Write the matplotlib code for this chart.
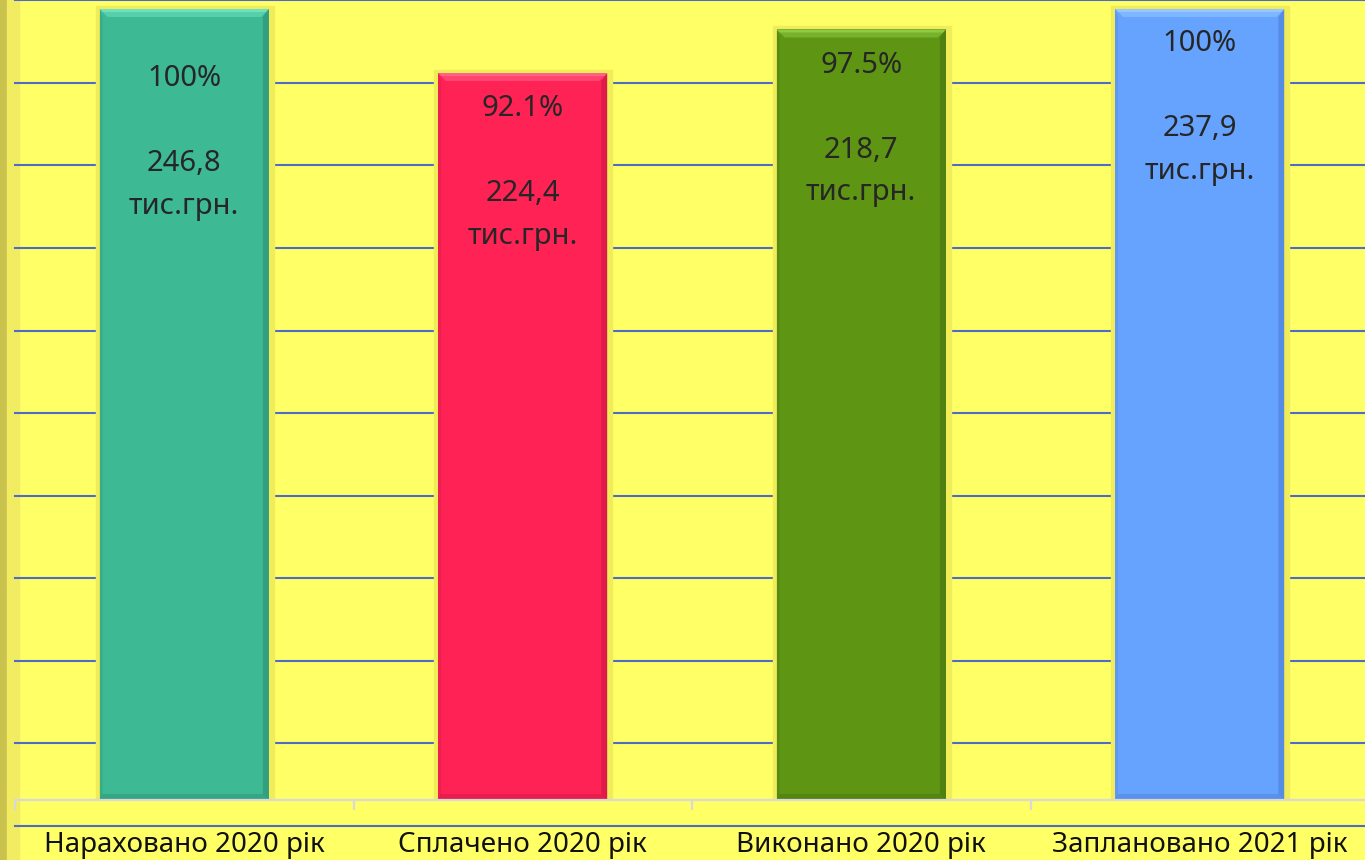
import numpy as np
import matplotlib
matplotlib.use('Agg')
import matplotlib.pyplot as plt
from matplotlib.patches import Rectangle, Polygon
from matplotlib.transforms import IdentityTransform, offset_copy

# ---------------- data ----------------
categories = ['Нараховано 2020 рік', 'Сплачено 2020 рік',
              'Виконано 2020 рік', 'Заплановано 2021 рік']
bar_heights = [246.8, 226.8, 240.4, 246.8]   # drawn heights (as seen)
percents = ['100%', '92.1%', '97.5%', '100%']
amounts = ['246,8', '224,4', '218,7', '237,9']

bar_colors = ['#3DBA94', '#FF2255', '#5E9614', '#66A3FF']
dark_colors = ['#23785F', '#B0123A', '#3A600A', '#3C6CC0']
light_colors = ['#7CF0CC', '#FF7A98', '#A0DC50', '#A8D4FF']
label_drop_px = [133.5, 99.5, 99.5, 98.5]

plt.rcParams['font.family'] = ['Noto Sans', 'DejaVu Sans']

W, H, DPI = 1365, 860, 100
fig = plt.figure(figsize=(W / DPI, H / DPI), dpi=DPI, facecolor='#FFFF66')

# left border strips of the slide
fig.patches.append(Rectangle((0, 0), 7 / W, 1, transform=fig.transFigure,
                             color='#C9C24C', zorder=-2))
fig.patches.append(Rectangle((7 / W, 0), 12 / W, 1, transform=fig.transFigure,
                             color='#F1EC62', zorder=-2))

ax = fig.add_axes([15 / W, 60 / H, 1354 / W, 800 / H])
ax.set_facecolor('none')
ax.set_zorder(1)
ymax = 249.6
ax.set_xlim(-0.5, 3.5)
ax.set_ylim(0, ymax)
px = 800 / ymax   # pixels per unit

# horizontal grid (offset from the base, like the source)
grid_vals = np.arange(11) * (82.57 / px) - 26 / px
for g in grid_vals:
    ax.axhline(g, color='#4F6CC4', lw=1.5, zorder=1, clip_on=False)

for s in ['top', 'left', 'right']:
    ax.spines[s].set_visible(False)
ax.spines['bottom'].set_color('#D9D9D9')
ax.spines['bottom'].set_linewidth(1.6)
ax.spines['bottom'].set_zorder(4)
ax.set_yticks([])
x = np.arange(len(categories))
ax.set_xticks(x, categories, fontsize=20, color='#111111')
ax.tick_params(axis='x', which='major', length=0, pad=22)
ax.set_xticks(np.arange(-0.5, 4, 1), minor=True)
ax.tick_params(axis='x', which='minor', length=7.5, width=1.6, color='#D9D9D9')

bars = ax.bar(x, bar_heights, width=0.5, color=bar_colors, zorder=3)

ident = IdentityTransform()
for i, b in enumerate(bars):
    (x0, y0), (x1, y1) = ax.transData.transform(
        [(b.get_x(), 0), (b.get_x() + b.get_width(), b.get_height())])
    # soft glow and shadow behind the bar
    ax.add_patch(Rectangle((x0 - 4, y0), x1 - x0 + 9, y1 - y0 + 3,
                           transform=ident, color='#F0EC5A', zorder=2))
    ax.add_patch(Rectangle((x0 - 2, y0 - 6), x1 - x0 + 5, 5,
                           transform=ident, color='#C8C04A', zorder=2))
    # bevel: top light, right/bottom/left darker
    bv = 8
    ax.add_patch(Polygon([(x0, y1), (x1, y1), (x1 - bv, y1 - bv), (x0 + bv, y1 - bv)],
                         closed=True, transform=ident, color=light_colors[i],
                         alpha=0.4, lw=0, zorder=3.5))
    ax.add_patch(Polygon([(x0, y1), (x1, y1), (x1 - 3, y1 - 3), (x0 + 3, y1 - 3)],
                         closed=True, transform=ident, color=light_colors[i],
                         alpha=0.6, lw=0, zorder=3.6))
    ax.add_patch(Polygon([(x1, y1), (x1, y0), (x1 - 6, y0 + 6), (x1 - 6, y1 - bv)],
                         closed=True, transform=ident, color=dark_colors[i],
                         alpha=0.4, lw=0, zorder=3.5))
    ax.add_patch(Polygon([(x0, y1), (x0, y0), (x0 + 3, y0 + 5), (x0 + 3, y1 - bv)],
                         closed=True, transform=ident, color=dark_colors[i],
                         alpha=0.2, lw=0, zorder=3.5))
    ax.add_patch(Polygon([(x0, y0), (x1, y0), (x1 - 6, y0 + 6), (x0 + 3, y0 + 6)],
                         closed=True, transform=ident, color=dark_colors[i],
                         alpha=0.3, lw=0, zorder=3.5))

    # value labels inside the bar
    tr = offset_copy(ax.transData, fig=fig, y=-label_drop_px[i], units='dots')
    ax.text(b.get_x() + b.get_width() / 2, b.get_height(),
            percents[i] + '\n\n' + amounts[i] + '\nтис.грн.',
            transform=tr, ha='center', va='center', fontsize=21,
            linespacing=1.62, color='#262626', zorder=5)

fig.savefig('out.png', dpi=DPI, facecolor=fig.get_facecolor())
